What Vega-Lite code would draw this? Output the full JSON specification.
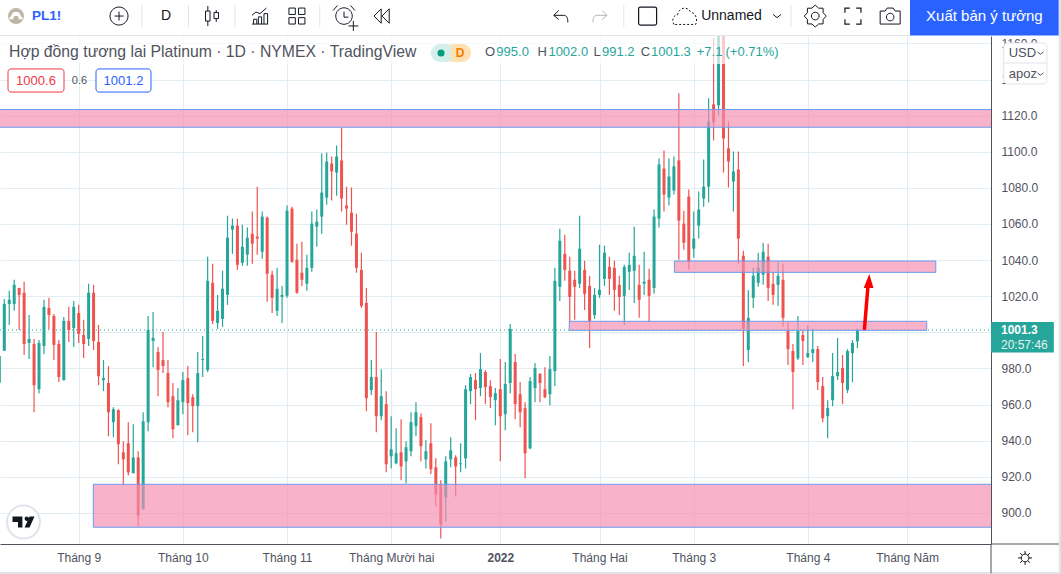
{"$schema":"https://vega.github.io/schema/vega-lite/v6.json","width":991,"height":508,"autosize":{"type":"none"},"padding":{"left":0,"top":36,"right":70,"bottom":30},"background":"#ffffff","config":{"view":{"stroke":null},"font":"Liberation Sans"},
"datasets":{"candles":[
{"i":0,"o":972,"h":986.9,"l":972,"c":986.9},{"i":1,"o":989.8,"h":1018.5,"l":989.8,"c":1015.7},{"i":2,"o":1015.7,"h":1023,"l":1004.1,"c":1018},{"i":3,"o":1015.7,"h":1029.1,"l":1012,"c":1026.3},{"i":4,"o":1024.6,"h":1024.6,"l":1001.3,"c":1020.7},{"i":5,"o":1021.9,"h":1028,"l":987.4,"c":993.5},{"i":6,"o":994.1,"h":1009.6,"l":985.2,"c":996.3},{"i":7,"o":993.5,"h":996.3,"l":955.7,"c":970.7},{"i":8,"o":968.5,"h":995.7,"l":966.3,"c":994.1},{"i":9,"o":992.4,"h":1018,"l":988,"c":1014.1},
{"i":10,"o":1013.5,"h":1019.1,"l":1001.7,"c":1009.6},{"i":11,"o":1009.1,"h":1010.2,"l":984.6,"c":993},{"i":12,"o":993.5,"h":995.7,"l":972.4,"c":975.2},{"i":13,"o":973.5,"h":1008.5,"l":973.5,"c":1006.3},{"i":14,"o":1006.3,"h":1014.1,"l":994.6,"c":1001.3},{"i":15,"o":1002.4,"h":1017.4,"l":991.9,"c":1014.1},{"i":16,"o":1010.7,"h":1015.2,"l":994.1,"c":999.1},{"i":17,"o":998.5,"h":1006.9,"l":985.7,"c":993.5},{"i":18,"o":996.3,"h":1026.9,"l":992.4,"c":1021.9},{"i":19,"o":1021.9,"h":1026.3,"l":990.2,"c":995.2},
{"i":20,"o":994.6,"h":1004.1,"l":970.7,"c":975.7},{"i":21,"o":973.5,"h":984.6,"l":967.4,"c":974.6},{"i":22,"o":971.9,"h":981.3,"l":942.4,"c":955.7},{"i":23,"o":950.2,"h":958.5,"l":941.9,"c":957.4},{"i":24,"o":956.9,"h":957.4,"l":926.9,"c":938},{"i":25,"o":933.5,"h":939.6,"l":915.2,"c":929.6},{"i":26,"o":938.5,"h":950.2,"l":920.7,"c":922.4},{"i":27,"o":921.9,"h":949.1,"l":921.9,"c":930.7},{"i":28,"o":930.7,"h":934.1,"l":892.4,"c":898.5},{"i":29,"o":901.9,"h":955.7,"l":901.9,"c":950.7},
{"i":30,"o":950.2,"h":1009.1,"l":945.2,"c":1001.3},{"i":31,"o":995.2,"h":1011.3,"l":980.7,"c":996.9},{"i":32,"o":989.1,"h":991.9,"l":964.6,"c":979.1},{"i":33,"o":984.6,"h":1000.2,"l":977.4,"c":981.3},{"i":34,"o":977.4,"h":984.6,"l":958.5,"c":961.3},{"i":35,"o":964.6,"h":971.9,"l":941.3,"c":946.3},{"i":36,"o":948.5,"h":969.1,"l":948.5,"c":962.4},{"i":37,"o":961.3,"h":978,"l":954.6,"c":973.5},{"i":38,"o":974.6,"h":981.3,"l":943,"c":960.7},{"i":39,"o":964.1,"h":965.7,"l":944.6,"c":959.1},
{"i":40,"o":959.1,"h":989.1,"l":939.1,"c":977.4},{"i":41,"o":984.6,"h":998,"l":975.2,"c":985.2},{"i":42,"o":979.1,"h":1041.9,"l":978,"c":1028.5},{"i":43,"o":1027.4,"h":1038,"l":1004.6,"c":1006.3},{"i":44,"o":1005.2,"h":1020.7,"l":1001.9,"c":1011.9},{"i":45,"o":1007.4,"h":1034.1,"l":1003,"c":1024.1},{"i":46,"o":1020.7,"h":1064.6,"l":1015.2,"c":1052.4},{"i":47,"o":1056.9,"h":1063,"l":1043.5,"c":1059.1},{"i":48,"o":1059.1,"h":1063,"l":1034.6,"c":1037.4},{"i":49,"o":1038.5,"h":1059.6,"l":1036.9,"c":1047.4},
{"i":50,"o":1043,"h":1058,"l":1036.9,"c":1052.4},{"i":51,"o":1054.6,"h":1066.9,"l":1038,"c":1049.1},{"i":52,"o":1053,"h":1080.7,"l":1043,"c":1051.9},{"i":53,"o":1044.6,"h":1066.9,"l":1040.7,"c":1064.1},{"i":54,"o":1063.5,"h":1064.1,"l":1016.9,"c":1032.4},{"i":55,"o":1031.9,"h":1034.1,"l":1010.7,"c":1019.1},{"i":56,"o":1011.9,"h":1035.7,"l":1009.1,"c":1024.1},{"i":57,"o":1019.6,"h":1025.7,"l":1005.2,"c":1020.7},{"i":58,"o":1020.2,"h":1070.2,"l":1019.1,"c":1067.4},{"i":59,"o":1068.5,"h":1069.6,"l":1038.5,"c":1039.1},
{"i":60,"o":1040.2,"h":1049.1,"l":1021.3,"c":1021.9},{"i":61,"o":1033,"h":1050.2,"l":1025.7,"c":1029.1},{"i":62,"o":1026.9,"h":1043,"l":1023,"c":1035.7},{"i":63,"o":1035.7,"h":1066.9,"l":1033.5,"c":1060.2},{"i":64,"o":1058.5,"h":1068,"l":1047.4,"c":1061.3},{"i":65,"o":1064.1,"h":1099.1,"l":1054.6,"c":1077.4},{"i":66,"o":1074.6,"h":1099.6,"l":1070.7,"c":1094.6},{"i":67,"o":1093.5,"h":1097.4,"l":1073,"c":1089.1},{"i":68,"o":1088.5,"h":1103.5,"l":1075.7,"c":1097.4},{"i":69,"o":1095.2,"h":1113.5,"l":1066.9,"c":1074.1},
{"i":70,"o":1070.2,"h":1080.7,"l":1059.6,"c":1068.5},{"i":71,"o":1066.3,"h":1080.2,"l":1048,"c":1055.7},{"i":72,"o":1054.6,"h":1065.7,"l":1033,"c":1035.7},{"i":73,"o":1034.6,"h":1044.1,"l":1013.5,"c":1014.6},{"i":74,"o":1016.3,"h":1024.6,"l":956.3,"c":963.5},{"i":75,"o":968,"h":984.6,"l":965.2,"c":975.2},{"i":76,"o":975.2,"h":1000.2,"l":944.6,"c":953.5},{"i":77,"o":953.5,"h":979.6,"l":951.3,"c":964.6},{"i":78,"o":960.2,"h":967.4,"l":922.4,"c":926.9},{"i":79,"o":931.3,"h":953.5,"l":924.6,"c":935.2},
{"i":80,"o":927.4,"h":946.9,"l":926.9,"c":933},{"i":81,"o":933.5,"h":951.9,"l":918,"c":925.7},{"i":82,"o":928.5,"h":939.6,"l":916.3,"c":936.3},{"i":83,"o":934.1,"h":955.7,"l":931.3,"c":950.2},{"i":84,"o":948,"h":961.3,"l":942.4,"c":955.7},{"i":85,"o":953,"h":955.2,"l":928.5,"c":936.9},{"i":86,"o":929.6,"h":940.2,"l":924.6,"c":934.1},{"i":87,"o":938.5,"h":949.6,"l":921.3,"c":924.1},{"i":88,"o":925.2,"h":930.2,"l":903.5,"c":910.2},{"i":89,"o":915.7,"h":918,"l":885.7,"c":893.5},
{"i":90,"o":908.5,"h":931.3,"l":895.2,"c":928.5},{"i":91,"o":929.6,"h":941.9,"l":925.2,"c":934.6},{"i":92,"o":930.7,"h":931.9,"l":909.1,"c":925.7},{"i":93,"o":926.9,"h":938.5,"l":922.4,"c":927.4},{"i":94,"o":930.2,"h":970.7,"l":924.6,"c":968.5},{"i":95,"o":967.4,"h":976.9,"l":960.2,"c":975.2},{"i":96,"o":973.5,"h":977.4,"l":951.3,"c":968.5},{"i":97,"o":969.1,"h":988.5,"l":964.6,"c":979.6},{"i":98,"o":978,"h":979.1,"l":960.2,"c":969.6},{"i":99,"o":970.2,"h":973.5,"l":958,"c":964.1},
{"i":100,"o":962.4,"h":969.1,"l":948.5,"c":966.3},{"i":101,"o":968.5,"h":985.2,"l":928.5,"c":953.5},{"i":102,"o":954.6,"h":983.5,"l":945.7,"c":971.3},{"i":103,"o":971.9,"h":1004.6,"l":966.3,"c":1001.9},{"i":104,"o":983.5,"h":988,"l":951.9,"c":960.2},{"i":105,"o":965.7,"h":972.4,"l":947.4,"c":955.7},{"i":106,"o":958,"h":961.3,"l":919.1,"c":933},{"i":107,"o":935.7,"h":975.2,"l":935.2,"c":973},{"i":108,"o":969.1,"h":983,"l":961.3,"c":980.2},{"i":109,"o":976.9,"h":977.4,"l":961.3,"c":971.9},
{"i":110,"o":968.5,"h":980.7,"l":963.5,"c":964.1},{"i":111,"o":965.7,"h":986.9,"l":959.6,"c":979.6},{"i":112,"o":978.5,"h":1035.7,"l":970.2,"c":1028.5},{"i":113,"o":1025.2,"h":1057.4,"l":1017.4,"c":1050.7},{"i":114,"o":1043.5,"h":1054.1,"l":1028.5,"c":1034.6},{"i":115,"o":1034.1,"h":1041.9,"l":1005.9,"c":1019.6},{"i":116,"o":1029.1,"h":1034.1,"l":1006.9,"c":1025.2},{"i":117,"o":1026.9,"h":1064.6,"l":1024.6,"c":1046.3},{"i":118,"o":1034.6,"h":1039.6,"l":1012.4,"c":1021.3},{"i":119,"o":1025.7,"h":1031.3,"l":991.3,"c":1006.3},
{"i":120,"o":1009.6,"h":1024.6,"l":1007.4,"c":1020.7},{"i":121,"o":1020.7,"h":1048.5,"l":1019.1,"c":1023.5},{"i":122,"o":1029.6,"h":1048,"l":1025.7,"c":1044.1},{"i":123,"o":1036.3,"h":1041.9,"l":1020.7,"c":1029.6},{"i":124,"o":1035.7,"h":1039.6,"l":1011.9,"c":1023.5},{"i":125,"o":1026.3,"h":1031.3,"l":1009.6,"c":1019.6},{"i":126,"o":1020.2,"h":1037.4,"l":1004.1,"c":1036.3},{"i":127,"o":1033.5,"h":1044.1,"l":1023.5,"c":1037.4},{"i":128,"o":1034.1,"h":1058.5,"l":1016.3,"c":1042.4},{"i":129,"o":1026.3,"h":1037.4,"l":1008,"c":1018},
{"i":130,"o":1026.9,"h":1044.6,"l":1020.7,"c":1028},{"i":131,"o":1029.1,"h":1035.2,"l":1005.9,"c":1020.2},{"i":132,"o":1024.6,"h":1068,"l":1021.3,"c":1064.1},{"i":133,"o":1063,"h":1096.3,"l":1058,"c":1093},{"i":134,"o":1090.7,"h":1100.7,"l":1066.9,"c":1076.3},{"i":135,"o":1074.6,"h":1096.3,"l":1070.2,"c":1086.3},{"i":136,"o":1078.5,"h":1097.4,"l":1076.3,"c":1091.9},{"i":137,"o":1095.2,"h":1132.4,"l":1040.2,"c":1061.9},{"i":138,"o":1060.2,"h":1067.4,"l":1045.7,"c":1049.6},{"i":139,"o":1075.2,"h":1079.1,"l":1034.6,"c":1039.1},
{"i":140,"o":1046.3,"h":1066.9,"l":1041.3,"c":1051.9},{"i":141,"o":1059.1,"h":1078,"l":1051.9,"c":1068},{"i":142,"o":1074.1,"h":1095.7,"l":1069.6,"c":1080.7},{"i":143,"o":1080.7,"h":1129.6,"l":1071.9,"c":1116.9},{"i":144,"o":1126.3,"h":1163,"l":1106.3,"c":1116.3},{"i":145,"o":1125.7,"h":1175,"l":1120.2,"c":1170},{"i":146,"o":1175,"h":1185,"l":1088.5,"c":1107.4},{"i":147,"o":1101.9,"h":1116.9,"l":1080.2,"c":1094.6},{"i":148,"o":1083.5,"h":1100.2,"l":1066.9,"c":1089.1},{"i":149,"o":1090.2,"h":1100.2,"l":1038,"c":1051.9},
{"i":150,"o":1042.4,"h":1045.2,"l":981.3,"c":1001.9},{"i":151,"o":990.2,"h":1023.5,"l":983.5,"c":1008},{"i":152,"o":1019.1,"h":1035.7,"l":1013.5,"c":1031.3},{"i":153,"o":1027.4,"h":1044.1,"l":1025.2,"c":1035.7},{"i":154,"o":1031.9,"h":1049.6,"l":1026.3,"c":1044.6},{"i":155,"o":1041.9,"h":1049.1,"l":1017.4,"c":1024.6},{"i":156,"o":1026.9,"h":1033.5,"l":1015.2,"c":1020.7},{"i":157,"o":1026.3,"h":1039.1,"l":1014.6,"c":1031.3},{"i":158,"o":1029.1,"h":1038,"l":1003.1,"c":1008},{"i":159,"o":1000.7,"h":1005.9,"l":981.9,"c":990.7},
{"i":160,"o":989.6,"h":993.5,"l":957.4,"c":978},{"i":161,"o":985.6,"h":1009.1,"l":984.6,"c":1000.7},{"i":162,"o":998.5,"h":1000.7,"l":981.9,"c":995.2},{"i":163,"o":986.3,"h":1004.1,"l":985.7,"c":988.5},{"i":164,"o":988.5,"h":1001.9,"l":983.5,"c":990.7},{"i":165,"o":990.7,"h":992.4,"l":968,"c":972.4},{"i":166,"o":970.2,"h":975.2,"l":950.2,"c":952.4},{"i":167,"o":953.5,"h":962.4,"l":941.3,"c":958},{"i":168,"o":962.4,"h":988.5,"l":959.1,"c":975.7},{"i":169,"o":975.7,"h":996.9,"l":973.5,"c":978},
{"i":170,"o":980.2,"h":987.4,"l":960.2,"c":971.9},{"i":171,"o":968,"h":990.7,"l":966.3,"c":989.6},{"i":172,"o":988.5,"h":995.7,"l":972.4,"c":994.1},{"i":173,"o":995,"h":1002,"l":991.2,"c":1001.3}]},
"encoding":{
"x":{"field":"i","type":"quantitative","title":null,"scale":{"domain":[0.135,199.93],"nice":false,"zero":false,"padding":0},"axis":{"orient":"bottom","values":[16,37,58,79,101,121,140,163,183],"labelExpr":"{16:'Tháng 9',37:'Tháng 10',58:'Tháng 11',79:'Tháng Mười hai',101:'2022',121:'Tháng Hai',140:'Tháng 3',163:'Tháng 4',183:'Tháng Năm'}[datum.value]","title":null,"ticks":false,"grid":true,"gridColor":"#e1ecf3","gridWidth":1,"domainColor":"#50535e","domainWidth":1,"labelPadding":8,"labelFontSize":12,"labelColor":"#50535e","labelOverlap":false,"labelFontWeight":{"condition":{"test":"datum.value==101","value":"bold"},"value":"normal"}}},
"y":{"field":"p","type":"quantitative","title":null,"scale":{"domain":[882.72,1164.15],"nice":false,"zero":false,"padding":0},"axis":{"orient":"right","values":[900,920,940,960,980,1000,1020,1040,1060,1080,1100,1120,1140,1160],"labelExpr":"datum.value==1000?'':format(datum.value,'.1f')","title":null,"ticks":false,"grid":true,"gridColor":"#e1ecf3","gridWidth":1,"domainColor":"#50535e","domainWidth":1,"labelPadding":10,"labelFontSize":12,"labelColor":"#50535e"}}},
"layer":[
{"data":{"values":[{"i":0.135,"i2":199.93,"p":1001.3}]},"mark":{"type":"rule","stroke":"#26a69a","strokeWidth":1,"strokeDash":[1,3]},"encoding":{"x2":{"field":"i2"}}},
{"data":{"name":"candles"},"mark":{"type":"rule","strokeWidth":1.2,"clip":true},"encoding":{"y":{"field":"l","type":"quantitative","title":null,"axis":{"orient":"right","values":[900,920,940,960,980,1000,1020,1040,1060,1080,1100,1120,1140,1160],"labelExpr":"datum.value==1000?'':format(datum.value,'.1f')","title":null,"ticks":false,"grid":true,"gridColor":"#e1ecf3","gridWidth":1,"domainColor":"#50535e","domainWidth":1,"labelPadding":10,"labelFontSize":12,"labelColor":"#50535e"},"scale":{"domain":[882.72,1164.15],"nice":false,"zero":false,"padding":0}},"y2":{"field":"h"},"color":{"condition":{"test":"datum.c>=datum.o","value":"#26a69a"},"value":"#ef5350"}}},
{"data":{"name":"candles"},"mark":{"type":"bar","size":3,"clip":true},"encoding":{"y":{"field":"o","type":"quantitative","title":null,"axis":{"orient":"right","values":[900,920,940,960,980,1000,1020,1040,1060,1080,1100,1120,1140,1160],"labelExpr":"datum.value==1000?'':format(datum.value,'.1f')","title":null,"ticks":false,"grid":true,"gridColor":"#e1ecf3","gridWidth":1,"domainColor":"#50535e","domainWidth":1,"labelPadding":10,"labelFontSize":12,"labelColor":"#50535e"},"scale":{"domain":[882.72,1164.15],"nice":false,"zero":false,"padding":0}},"y2":{"field":"c"},"color":{"condition":{"test":"datum.c>=datum.o","value":"#26a69a"},"value":"#ef5350"}}},
{"data":{"values":[{"i":-3,"i2":205,"p":1123.4,"p2":1113.6},{"i":136.1,"i2":188.8,"p":1039.5,"p2":1033.2},{"i":114.9,"i2":186.97,"p":1006.1,"p2":1001.1},{"i":18.95,"i2":205,"p":915.8,"p2":892}]},"mark":{"type":"rect","fill":"#f48fb1","fillOpacity":0.68,"stroke":"#6a9bea","strokeWidth":1,"clip":true},"encoding":{"x2":{"field":"i2"},"y2":{"field":"p2"}}},
{"data":{"values":[{"i":174.4,"i2":175.2,"p":1001.3,"p2":1028}]},"mark":{"type":"rule","stroke":"#ff0000","strokeWidth":3.5},"encoding":{"x2":{"field":"i2"},"y2":{"field":"p2"}}},
{"data":{"values":[{"i":175.25,"p":1028.4}]},"mark":{"type":"point","shape":"M.1,-1L.7,1L-.7,1Z","size":196,"filled":true,"fill":"#ff0000","stroke":null,"opacity":1}},
{"data":{"values":[{"i":0.135,"i2":157.4,"p":1164.15,"p2":1148.6}]},"mark":{"type":"rect","fill":"#ffffff","opacity":0.7},"encoding":{"x2":{"field":"i2"},"y2":{"field":"p2"}}},
{"data":{"values":[{"i":4.87,"p":894.9}]},"mark":{"type":"point","shape":"circle","size":1089,"filled":true,"fill":"#ffffff","stroke":"#e0e3eb","strokeWidth":2,"opacity":1}},
{"data":{"values":[{"i":4.87,"p":894.9}]},"mark":{"type":"point","shape":"M-1,-.5L-.1,-.5L-.1,.5L-.5,.5L-.5,0L-1,0ZM.1,-.3A.2,.2 0 1,1 .5,-.3A.2,.2 0 1,1 .1,-.3ZM.55,-.5L1,-.5L.55,.5L.1,.5Z","size":484,"filled":true,"fill":"#131722","stroke":null,"opacity":1}},
{"data":{"values":[{"i":0.135,"i2":183.6,"p":1164.4}]},"mark":{"type":"rule","stroke":"#e0e3eb","strokeWidth":1},"encoding":{"x2":{"field":"i2"}}},
{"data":{"values":[{"i":183.6,"i2":213.6,"p":1184.1,"p2":1164.4}]},"mark":{"type":"rect","fill":"#2962ff"},"encoding":{"x2":{"field":"i2"},"y2":{"field":"p2"}}},
{"data":{"values":[{"i":213.6,"i2":214.2,"p":1184.1,"p2":866},{"i":0,"i2":214.2,"p":867.2,"p2":866}]},"mark":{"type":"rect","fill":"#e0e3eb"},"encoding":{"x2":{"field":"i2"},"y2":{"field":"p2"}}},
{"data":{"values":[{"i":28.76,"p":1181.3,"p2":1169.1},{"i":38.14,"p":1181.3,"p2":1169.1},{"i":47.5,"p":1181.3,"p2":1169.1},{"i":64.6,"p":1181.3,"p2":1169.1},{"i":125.9,"p":1181.3,"p2":1169.1},{"i":159.6,"p":1181.3,"p2":1169.1}]},"mark":{"type":"rule","stroke":"#e0e3eb","strokeWidth":1},"encoding":{"y2":{"field":"p2"}}},
{"data":{"values":[{"i":199.93,"p":882.72,"p2":866.5}]},"mark":{"type":"rule","stroke":"#50535e","strokeWidth":1},"encoding":{"y2":{"field":"p2"}}},
{"data":{"values":[{"i":199.93,"i2":213.6,"p":882.72}]},"mark":{"type":"rule","stroke":"#50535e","strokeWidth":1},"encoding":{"x2":{"field":"i2"}}},
{"data":{"values":[{"i":1.75,"i2":13.04,"p":1145.9,"p2":1133.1}]},"mark":{"type":"rect","fill":"#ffffff","stroke":"#f23645","strokeWidth":1,"cornerRadius":3},"encoding":{"x2":{"field":"i2"},"y2":{"field":"p2"}}},
{"data":{"values":[{"i":19.49,"i2":30.58,"p":1145.9,"p2":1133.1}]},"mark":{"type":"rect","fill":"#ffffff","stroke":"#2962ff","strokeWidth":1,"cornerRadius":3},"encoding":{"x2":{"field":"i2"},"y2":{"field":"p2"}}},
{"data":{"values":[{"i":87.03,"i2":92,"p":1159.7,"p2":1149.8}]},"mark":{"type":"rect","fill":"#d4efe9","cornerRadius":9},"encoding":{"x2":{"field":"i2"},"y2":{"field":"p2"}}},
{"data":{"values":[{"i":91.06,"i2":95.1,"p":1159.7,"p2":1149.8}]},"mark":{"type":"rect","fill":"#ffe0b2","cornerRadiusTopRight":9,"cornerRadiusBottomRight":9},"encoding":{"x2":{"field":"i2"},"y2":{"field":"p2"}}},
{"data":{"values":[{"i":89.05,"p":1154.7}]},"mark":{"type":"point","shape":"circle","size":50,"filled":true,"fill":"#089981","stroke":null,"opacity":1}},
{"data":{"values":[{"t":"D","i":92.9,"p":1154.7}]},"mark":{"type":"text","align":"center","baseline":"middle","fontSize":12,"fontWeight":"bold","fill":"#f57c00"},"encoding":{"text":{"field":"t"}}},
{"data":{"values":[{"t":"Hợp đồng tương lai Platinum · 1D · NYMEX · TradingView","i":1.95,"p":1155.3}]},"mark":{"type":"text","align":"left","baseline":"middle","fontSize":15.75,"fill":"#50535e"},"encoding":{"text":{"field":"t"}}},
{"data":{"values":[{"t":"O","i":97.9,"p":1155.3},{"t":"H","i":108.5,"p":1155.3},{"t":"L","i":119.8,"p":1155.3},{"t":"C","i":129.3,"p":1155.3}]},"mark":{"type":"text","align":"left","baseline":"middle","fontSize":13,"fill":"#50535e"},"encoding":{"text":{"field":"t"}}},
{"data":{"values":[{"t":"995.0","i":100.2,"p":1155.3},{"t":"1002.0","i":110.7,"p":1155.3},{"t":"991.2","i":121.5,"p":1155.3},{"t":"1001.3","i":131.4,"p":1155.3},{"t":"+7.1","i":140.6,"p":1155.3},{"t":"(+0.71%)","i":146.4,"p":1155.3}]},"mark":{"type":"text","align":"left","baseline":"middle","fontSize":13,"fill":"#26a69a"},"encoding":{"text":{"field":"t"}}},
{"data":{"values":[{"t":"1000.6","i":7.39,"p":1139.2}]},"mark":{"type":"text","align":"center","baseline":"middle","fontSize":13,"fill":"#f23645"},"encoding":{"text":{"field":"t"}}},
{"data":{"values":[{"t":"1001.2","i":25.03,"p":1139.2}]},"mark":{"type":"text","align":"center","baseline":"middle","fontSize":13,"fill":"#2962ff"},"encoding":{"text":{"field":"t"}}},
{"data":{"values":[{"t":"0.6","i":16.16,"p":1139.2}]},"mark":{"type":"text","align":"center","baseline":"middle","fontSize":11,"fill":"#50535e"},"encoding":{"text":{"field":"t"}}},
{"data":{"values":[{"i":3.36,"p":1175.2}]},"mark":{"type":"point","shape":"circle","size":256,"filled":true,"fill":"#c1b5a7","stroke":null,"opacity":1}},
{"data":{"values":[{"i":3.36,"p":1175.2}]},"mark":{"type":"point","shape":"M-.9,.4L-.3,-.5L.3,-.5L.9,.4L.4,.4L.2,0L-.2,0L-.4,.4Z","size":256,"filled":true,"fill":"#ffffff","stroke":null,"opacity":1}},
{"data":{"values":[{"t":"PL1!","i":6.59,"p":1175.2}]},"mark":{"type":"text","align":"left","baseline":"middle","fontSize":13.5,"fontWeight":"bold","fill":"#2962ff"},"encoding":{"text":{"field":"t"}}},
{"data":{"values":[{"i":24.13,"p":1175.2}]},"mark":{"type":"point","shape":"M-1,0A1,1 0 1,1 1,0A1,1 0 1,1 -1,0ZM-.5,0L.5,0M0,-.5L0,.5","size":324,"filled":false,"stroke":"#131722","strokeWidth":1,"opacity":1}},
{"data":{"values":[{"t":"D","i":32.6,"p":1175.2},{"t":"Unnamed","i":141.5,"p":1175.2}]},"mark":{"type":"text","align":"left","baseline":"middle","fontSize":14,"fill":"#131722"},"encoding":{"text":{"field":"t"}}},
{"data":{"values":[{"i":42.88,"p":1175.2}]},"mark":{"type":"point","shape":"M-.65,-.5L-.2,-.5L-.2,.5L-.65,.5ZM-.42,-1L-.42,-.5M-.42,.5L-.42,1M.2,-.35L.65,-.35L.65,.25L.2,.25ZM.42,-.6L.42,-.35M.42,.25L.42,.6","size":400,"filled":false,"stroke":"#131722","strokeWidth":1,"opacity":1}},
{"data":{"values":[{"i":52.55,"p":1175.2}]},"mark":{"type":"point","shape":"M-1,1L1,1M-.8,1L-.8,.4L-.4,.4L-.4,1M-.2,1L-.2,.1L.2,.1L.2,1M.5,1L.5,-.3L.95,-.3L.95,1M-1,-.1L-.5,-.5L0,-.3L.8,-1","size":256,"filled":false,"stroke":"#131722","strokeWidth":1,"opacity":1}},
{"data":{"values":[{"i":60,"p":1175.2}]},"mark":{"type":"point","shape":"M-1,-1L-.2,-1L-.2,-.2L-1,-.2ZM.2,-1L1,-1L1,-.2L.2,-.2ZM-1,.2L-.2,.2L-.2,1L-1,1ZM.2,.2L1,.2L1,1L.2,1Z","size":256,"filled":false,"stroke":"#131722","strokeWidth":1,"opacity":1}},
{"data":{"values":[{"i":69.49,"p":1175.2}]},"mark":{"type":"point","shape":"M-.75,0A.75,.75 0 1,1 .75,0A.75,.75 0 1,1 -.75,0ZM0,-.4L0,.1L.4,.1M-1,-.5L-.6,-.95M1,-.5L.6,-.95M.4,.9L1.3,.9M.85,.45L.85,1.35","size":484,"filled":false,"stroke":"#131722","strokeWidth":1,"opacity":1}},
{"data":{"values":[{"i":77.15,"p":1175.2}]},"mark":{"type":"point","shape":"M-.1,-.9L-1,0L-.1,.9ZM.9,-.9L0,0L.9,.9Z","size":256,"filled":false,"stroke":"#131722","strokeWidth":1,"opacity":1}},
{"data":{"values":[{"i":113.2,"p":1175.2}]},"mark":{"type":"point","shape":"M-.3,-.8L-1,-.1L-.3,.5M-1,-.1L.4,-.1C.9,-.1,1,.3,1,.9","size":196,"filled":false,"stroke":"#131722","strokeWidth":1,"opacity":1}},
{"data":{"values":[{"i":121.1,"p":1175.2}]},"mark":{"type":"point","shape":"M.3,-.8L1,-.1L.3,.5M1,-.1L-.4,-.1C-.9,-.1,-1,.3,-1,.9","size":196,"filled":false,"stroke":"#b2b5be","strokeWidth":1,"opacity":1}},
{"data":{"values":[{"i":130.7,"p":1175.2}]},"mark":{"type":"point","shape":"M-.8,-1L.8,-1Q1,-1,1,-.8L1,.8Q1,1,.8,1L-.8,1Q-1,1,-1,.8L-1,-.8Q-1,-1,-.8,-1Z","size":324,"filled":false,"stroke":"#131722","strokeWidth":1.2,"opacity":1}},
{"data":{"values":[{"i":138.2,"p":1175.2}]},"mark":{"type":"point","shape":"M-.9,.7C-1.1,.4,-1,-.1,-.6,-.1C-.5,-.7,.2,-.9,.5,-.3C.9,-.3,1.1,.3,.9,.7Z","size":576,"filled":false,"stroke":"#131722","strokeWidth":1,"strokeDash":[2,2],"opacity":1}},
{"data":{"values":[{"i":156.8,"p":1175.2}]},"mark":{"type":"point","shape":"M-1,-.4L0,.4L1,-.4","size":64,"filled":false,"stroke":"#131722","strokeWidth":1,"opacity":1}},
{"data":{"values":[{"i":164.5,"p":1175.2}]},"mark":{"type":"point","shape":"M1,0L.72,.3L.71,.71L.3,.72L0,1L-.3,.72L-.71,.71L-.72,.3L-1,0L-.72,-.3L-.71,-.71L-.3,-.72L0,-1L.3,-.72L.71,-.71L.72,-.3ZM-.35,0A.35,.35 0 1,1 .35,0A.35,.35 0 1,1 -.35,0Z","size":484,"filled":false,"stroke":"#131722","strokeWidth":1,"opacity":1}},
{"data":{"values":[{"i":172.1,"p":1175.2}]},"mark":{"type":"point","shape":"M-1,-.4L-1,-1L-.4,-1M.4,-1L1,-1L1,-.4M1,.4L1,1L.4,1M-.4,1L-1,1L-1,.4","size":256,"filled":false,"stroke":"#131722","strokeWidth":1.2,"opacity":1}},
{"data":{"values":[{"i":179.6,"p":1175.2}]},"mark":{"type":"point","shape":"M-1,-.5L-.5,-.5L-.3,-.8L.3,-.8L.5,-.5L1,-.5L1,.8L-1,.8ZM-.38,.1A.38,.38 0 1,1 .38,.1A.38,.38 0 1,1 -.38,.1Z","size":400,"filled":false,"stroke":"#131722","strokeWidth":1,"opacity":1}},
{"data":{"values":[{"t":"Xuất bản ý tưởng","i":198.6,"p":1175.2}]},"mark":{"type":"text","align":"center","baseline":"middle","fontSize":15,"fill":"#ffffff"},"encoding":{"text":{"field":"t"}}},
{"data":{"values":[{"i":202.5,"i2":211.2,"p":1160.3,"p2":1137.6}]},"mark":{"type":"rect","fill":"#ffffff","stroke":"#e0e3eb","strokeWidth":1,"cornerRadius":4},"encoding":{"x2":{"field":"i2"},"y2":{"field":"p2"}}},
{"data":{"values":[{"i":202.5,"i2":211.2,"p":1149.2}]},"mark":{"type":"rule","stroke":"#e0e3eb","strokeWidth":1},"encoding":{"x2":{"field":"i2"}}},
{"data":{"values":[{"t":"USD","i":203.5,"p":1154.7},{"t":"apoz","i":203.5,"p":1143.1}]},"mark":{"type":"text","align":"left","baseline":"middle","fontSize":13,"fill":"#50535e"},"encoding":{"text":{"field":"t"}}},
{"data":{"values":[{"i":209.9,"p":1154.7},{"i":209.9,"p":1143.1}]},"mark":{"type":"point","shape":"M-1,-.4L0,.4L1,-.4","size":36,"filled":false,"stroke":"#50535e","strokeWidth":1,"opacity":1}},
{"data":{"values":[{"i":199.93,"i2":212.6,"p":1005.7,"p2":988.8}]},"mark":{"type":"rect","fill":"#26a69a"},"encoding":{"x2":{"field":"i2"},"y2":{"field":"p2"}}},
{"data":{"values":[{"t":"1001.3","i":201.95,"p":1001.3}]},"mark":{"type":"text","align":"left","baseline":"middle","fontSize":12,"fontWeight":"bold","fill":"#ffffff"},"encoding":{"text":{"field":"t"}}},
{"data":{"values":[{"t":"20:57:46","i":201.95,"p":993}]},"mark":{"type":"text","align":"left","baseline":"middle","fontSize":12,"fill":"#e3f4f1"},"encoding":{"text":{"field":"t"}}},
{"data":{"values":[{"i":206.8,"p":875}]},"mark":{"type":"point","shape":"M-.55,0A.55,.55 0 1,1 .55,0A.55,.55 0 1,1 -.55,0ZM0,-1L0,-.55M0,.55L0,1M-1,0L-.55,0M.55,0L1,0M-.7,-.7L-.4,-.4M.4,.4L.7,.7M-.7,.7L-.4,.4M.4,-.4L.7,-.7","size":196,"filled":false,"stroke":"#131722","strokeWidth":1,"opacity":1}}
]}
